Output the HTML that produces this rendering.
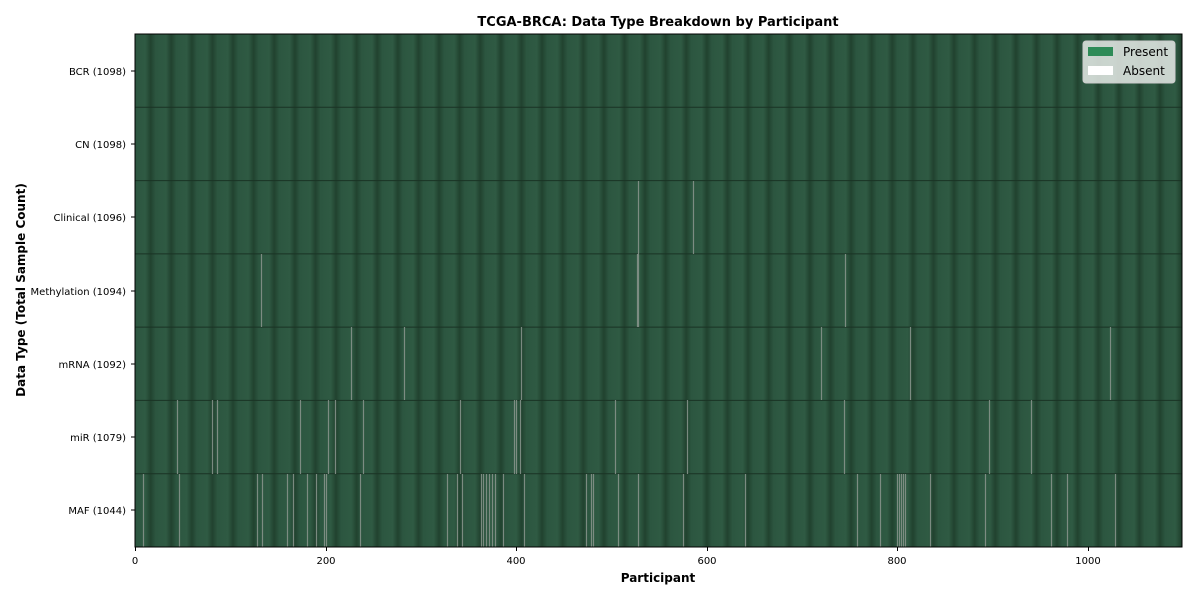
<!DOCTYPE html>
<html><head><meta charset="utf-8"><style>
body{margin:0;background:#fff;width:1200px;height:600px;overflow:hidden;font-family:"Liberation Sans","DejaVu Sans",sans-serif}
</style></head><body>
<svg width="1200" height="600" xmlns="http://www.w3.org/2000/svg" font-family="DejaVu Sans, Liberation Sans, sans-serif">
<defs>
<linearGradient id="g" x1="0" x2="1" y1="0" y2="0">
<stop offset="0" stop-color="#21422f"/>
<stop offset="0.25" stop-color="#2c5640"/>
<stop offset="0.75" stop-color="#2f5a43"/>
<stop offset="1" stop-color="#21422f"/>
</linearGradient>
<pattern id="p" x="130" y="0" width="20.6" height="600" patternUnits="userSpaceOnUse">
<rect width="20.6" height="600" fill="url(#g)"/>
</pattern>
</defs>
<text x="658" y="26" font-size="13" font-weight="bold" text-anchor="middle">TCGA-BRCA: Data Type Breakdown by Participant</text>
<rect x="135" y="34" width="1047" height="513" fill="url(#p)"/>
<g stroke="#1a3324" stroke-width="1">
<line x1="135" x2="1182" y1="107.3" y2="107.3"/><line x1="135" x2="1182" y1="180.6" y2="180.6"/>
<line x1="135" x2="1182" y1="253.9" y2="253.9"/><line x1="135" x2="1182" y1="327.1" y2="327.1"/>
<line x1="135" x2="1182" y1="400.4" y2="400.4"/><line x1="135" x2="1182" y1="473.7" y2="473.7"/>
</g>
<g stroke="#8a968e" stroke-width="1.2" opacity="0.85">
<path d="M638.5 181V254M693.5 181V254"/>
<path d="M261.5 254V327M637.5 254V327M638.5 254V327M845.5 254V327"/>
<path d="M351.5 327V400M404.5 327V400M521.5 327V400M821.5 327V400M910.5 327V400M1110.5 327V400"/>
<path d="M177.5 400V474M212.5 400V474M217.5 400V474M300.5 400V474M328.5 400V474M335.5 400V474M363.5 400V474M460.5 400V474M514.5 400V474M516.5 400V474M520.5 400V474M615.5 400V474M687.5 400V474M844.5 400V474M989.5 400V474M1031.5 400V474"/>
<path d="M143.5 474V547M179.5 474V547M257.5 474V547M262.5 474V547M287.5 474V547M293.5 474V547M307.5 474V547M316.5 474V547M324.5 474V547M326.5 474V547M360.5 474V547M447.5 474V547M457.5 474V547M462.5 474V547M481.5 474V547M483.5 474V547M486.5 474V547M489.5 474V547M492.5 474V547M495.5 474V547M503.5 474V547M524.5 474V547M586.5 474V547M591.5 474V547M593.5 474V547M618.5 474V547M638.5 474V547M683.5 474V547M745.5 474V547M857.5 474V547M880.5 474V547M897.5 474V547M899.5 474V547M901.5 474V547M903.5 474V547M905.5 474V547M930.5 474V547M985.5 474V547M1051.5 474V547M1067.5 474V547M1115.5 474V547"/>
</g>
<rect x="135" y="34" width="1047" height="513" fill="none" stroke="#000" stroke-width="1"/>
<g font-size="10" text-anchor="end" fill="#000">
<text x="126" y="75">BCR (1098)</text>
<text x="126" y="148">CN (1098)</text>
<text x="126" y="221">Clinical (1096)</text>
<text x="126" y="295">Methylation (1094)</text>
<text x="126" y="368">mRNA (1092)</text>
<text x="126" y="441">miR (1079)</text>
<text x="126" y="514">MAF (1044)</text>
</g>
<g stroke="#000"><path d="M131 71H135M131 144H135M131 217H135M131 291H135M131 364H135M131 437H135M131 510H135"/>
<path d="M135.5 547V551M326.5 547V551M516.5 547V551M707.5 547V551M897.5 547V551M1088.5 547V551"/></g>
<g font-size="10" text-anchor="middle">
<text x="135" y="564">0</text><text x="326" y="564">200</text><text x="516" y="564">400</text>
<text x="707" y="564">600</text><text x="897" y="564">800</text><text x="1088" y="564">1000</text>
</g>
<text x="658" y="582" font-size="12" font-weight="bold" text-anchor="middle">Participant</text>
<text transform="translate(25,290) rotate(-90)" font-size="12" font-weight="bold" text-anchor="middle">Data Type (Total Sample Count)</text>
<rect x="1083" y="41" width="92" height="42" rx="3" fill="#e6ebe8" fill-opacity="0.85" stroke="#ccc"/>
<rect x="1088" y="47" width="25" height="9" fill="#2e8b57"/>
<rect x="1088" y="66" width="25" height="9" fill="#fff"/>
<text x="1123" y="56" font-size="12">Present</text>
<text x="1123" y="75" font-size="12">Absent</text>
</svg>
</body></html>
